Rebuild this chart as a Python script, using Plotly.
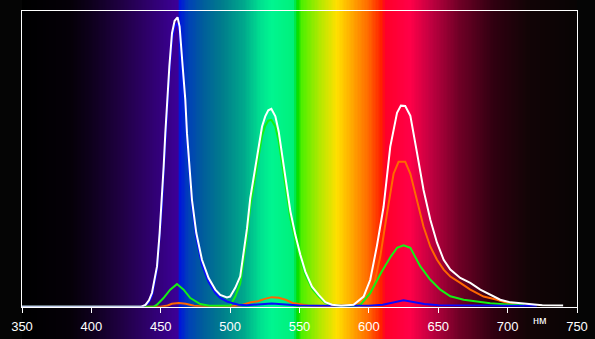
import numpy as np
import plotly.graph_objects as go

# ---- data (relative intensity vs wavelength, nm) ----
white_nm = [350, 436, 439, 441.5, 443.7, 447.3, 449.2, 450.9, 452.1, 453.3,
            454.5, 456.2, 458.1, 460, 462.1, 463.6, 465.8, 467.7, 468.9, 470.6,
            472.5, 475.6, 479.7, 484.5, 489.3, 492.9, 497.7, 500, 503.7, 507.3,
            509.7, 512.2, 514.5, 518.1, 520.5, 523, 525.3, 527.5, 529.7, 532.6,
            535, 537.4, 539.8, 543.4, 547, 550.6, 554.2, 559, 563.8, 568.6,
            573.4, 580, 589, 596.2, 601, 605.8, 610.6, 615.4, 620.3, 623.1,
            626.2, 629.9, 634.7, 639.4, 644.3, 649.1, 653.9, 658.7, 665.9, 673.1,
            680.3, 687.5, 694.7, 702, 711.5, 725, 740]
white_v = [0, 0, 0.006, 0.022, 0.048, 0.139, 0.254, 0.369, 0.484, 0.599,
           0.714, 0.829, 0.944, 0.987, 0.999, 0.967, 0.829, 0.714, 0.599, 0.484,
           0.369, 0.255, 0.162, 0.099, 0.059, 0.041, 0.032, 0.035, 0.065, 0.105,
           0.179, 0.271, 0.374, 0.478, 0.559, 0.622, 0.657, 0.678, 0.683, 0.657,
           0.605, 0.524, 0.433, 0.33, 0.248, 0.179, 0.121, 0.069, 0.041, 0.016,
           0.007, 0.003, 0.007, 0.035, 0.093, 0.21, 0.345, 0.552, 0.669, 0.694,
           0.693, 0.659, 0.531, 0.403, 0.3, 0.221, 0.162, 0.128, 0.099, 0.082,
           0.059, 0.041, 0.024, 0.015, 0.01, 0.005, 0.004]

blue_nm = [350, 437, 441, 443.7, 447.3, 449.2, 450.9, 452.1, 453.3, 454.5,
           456.2, 458.1, 460, 462.1, 463.6, 465.8, 467.7, 468.9, 470.6, 472.5,
           475.6, 479.7, 484.5, 489.3, 492.9, 497.7, 502, 506, 512, 520,
           530, 540, 550, 560, 600, 610, 618, 625, 632, 640,
           650, 680, 721]
blue_v = [0, 0, 0.012, 0.038, 0.128, 0.24, 0.352, 0.466, 0.58, 0.695,
          0.81, 0.922, 0.968, 0.978, 0.95, 0.81, 0.695, 0.58, 0.466, 0.352,
          0.24, 0.145, 0.085, 0.048, 0.03, 0.018, 0.012, 0.007, 0.005, 0.007,
          0.011, 0.008, 0.004, 0.003, 0.003, 0.007, 0.016, 0.022, 0.016, 0.009,
          0.005, 0.004, 0.003]

green_nm = [350, 445, 447.3, 452, 456.8, 461.7, 466.5, 471.3, 478.5, 485,
            500, 503.7, 507.3, 509.7, 512.2, 514.5, 518.1, 520.5, 523, 525.3,
            527.5, 529.7, 532.6, 535, 537.4, 539.8, 543.4, 547, 550.6, 554.2,
            559, 563.8, 568.6, 573.4, 580, 590, 594, 601, 608.7, 615.9,
            620.3, 625, 629.9, 637.1, 644.3, 651.5, 658.7, 668.3, 677.9, 687.5,
            700, 712]
green_v = [0, 0, 0.007, 0.03, 0.059, 0.078, 0.059, 0.03, 0.009, 0.003,
           0.003, 0.035, 0.08, 0.155, 0.245, 0.345, 0.45, 0.528, 0.59, 0.625,
           0.642, 0.645, 0.622, 0.572, 0.495, 0.405, 0.305, 0.23, 0.165, 0.11,
           0.062, 0.035, 0.013, 0.005, 0.002, 0.002, 0.007, 0.047, 0.116, 0.174,
           0.203, 0.212, 0.203, 0.139, 0.093, 0.059, 0.036, 0.024, 0.018, 0.012,
           0.008, 0.005]

red_nm = [350, 450, 455, 458, 463, 468, 474, 480, 500, 508,
          515, 520, 525, 530, 535, 540, 545, 549, 556, 565,
          585, 590, 596.2, 603.4, 608.2, 613, 617.8, 621.4, 626.2, 629.9,
          634.7, 639.4, 644.3, 649.1, 653.9, 658.7, 665.9, 673.1, 682.7, 692.3,
          702, 710]
red_v = [0, 0, 0.004, 0.01, 0.013, 0.01, 0.003, 0.001, 0.001, 0.005,
         0.015, 0.019, 0.027, 0.033, 0.031, 0.024, 0.013, 0.009, 0.004, 0.002,
         0.002, 0.005, 0.014, 0.069, 0.173, 0.32, 0.459, 0.5, 0.5, 0.459,
         0.369, 0.276, 0.207, 0.162, 0.128, 0.104, 0.082, 0.059, 0.035, 0.024,
         0.01, 0.005]

tick_vals = [350, 400, 450, 500, 550, 600, 650, 700, 750]
unit_label = "нм"

# background spectrum colour stops (wavelength, colour)
spec_nm = [350, 385, 400, 420, 440, 455, 462.5, 464, 470, 480, 495, 510, 522, 530,
           546, 548.5, 552, 565, 577, 588, 600, 609, 612, 630, 645, 665, 690, 715, 750]
spec_col = ['#000000', '#050008', '#0e001c', '#1e0040', '#2d0068', '#370088', '#3c0098',
            '#0018d8', '#0040b8', '#005c9c', '#007e8c', '#00a88c', '#00e090', '#00f590',
            '#00f07a', '#00dc00', '#50f000', '#b4e800', '#ffe000', '#ffa800', '#ff6800',
            '#ff2000', '#ff0028', '#ff0048', '#c00040', '#700026', '#300010', '#120406',
            '#080404']

W, H = 595, 339
m_left, m_right = 22, 18
y_top, y_zero = 11, 306.7
y_max = 1.0207

colorscale = [[(n - 350) / 400, c] for n, c in zip(spec_nm, spec_col)]
bg_x = np.arange(350, 751, 1.0)
bg_z = [list(bg_x), list(bg_x)]

fig = go.Figure()
fig.add_trace(go.Heatmap(x=bg_x, y=[0, 1], z=bg_z, colorscale=colorscale,
                         zmin=350, zmax=750, showscale=False, hoverinfo='skip',
                         xaxis='x', yaxis='y'))

for nm, v, col in [(red_nm, red_v, '#ff6600'),
                   (green_nm, green_v, '#14f014'),
                   (blue_nm, blue_v, '#0a0aff'),
                   (white_nm, white_v, '#ffffff')]:
    fig.add_trace(go.Scatter(x=nm, y=v, mode='lines', line=dict(color=col, width=2),
                             xaxis='x', yaxis='y2', showlegend=False, hoverinfo='skip'))

fig.add_annotation(text=unit_label, xref='x', yref='paper', x=723.5,
                   y=(H - 320.3) / H, showarrow=False, xanchor='center', yanchor='middle',
                   font=dict(family='Liberation Sans, Arial', size=11, color='white'))

fig.update_layout(
    width=W, height=H, autosize=False,
    margin=dict(l=m_left, r=m_right, t=0, b=0, pad=0, autoexpand=False),
    paper_bgcolor='#050505', plot_bgcolor='rgba(0,0,0,0)',
    showlegend=False,
    xaxis=dict(domain=[0, 1], range=[350, 750], anchor='y2', automargin=False,
               showline=True, linecolor='white', linewidth=1, mirror=True,
               ticks='outside', ticklen=5, tickcolor='white', tickwidth=1,
               ticklabelstandoff=3,
               tickvals=tick_vals, showgrid=False, zeroline=False,
               tickfont=dict(family='Liberation Sans, Arial', size=13, color='white')),
    yaxis=dict(domain=[0, 1], range=[0, 1], visible=False, fixedrange=True,
               automargin=False),
    yaxis2=dict(domain=[(H - y_zero) / H, (H - y_top) / H], range=[0, y_max], anchor='x',
                showline=True, linecolor='white', linewidth=1, mirror=True,
                automargin=False,
                showticklabels=False, ticks='', showgrid=False, zeroline=False),
)

fig.write_html("out.html")
